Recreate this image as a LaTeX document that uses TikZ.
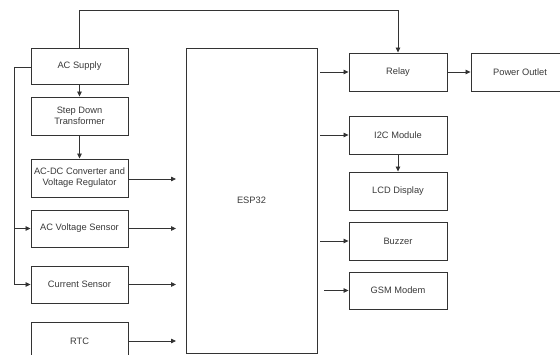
\documentclass[tikz,border=0pt]{standalone}
\usepackage{fontspec}
\setmainfont{Liberation Sans}
\usetikzlibrary{arrows.meta}
\definecolor{txt}{HTML}{3A3A3A}
\definecolor{ln}{HTML}{333333}
\begin{document}
\begin{tikzpicture}[x=1pt,y=-1pt,
  blk/.style={draw=ln, line width=0.9pt, fill=white, text=txt, align=center,
    font=\fontsize{9.3}{11}\selectfont, inner sep=1pt, minimum width=97pt, minimum height=38pt},
  conn/.style={draw=ln, line width=0.8pt},
  arr/.style={conn, -{Triangle[length=5pt,width=4.5pt]}}]
\useasboundingbox (0,0) rectangle (560,355);
\clip (0,0) rectangle (560,355);
\fill[white] (0,0) rectangle (560,355);
% left column
\node[blk, minimum height=36pt] (acs) at (79.5,66) {AC Supply};
\node[blk] (sdt) at (79.5,116) {Step Down\\Transformer};
\node[blk] (acdc) at (79.5,178) {AC-DC Converter and\\Voltage Regulator};
\node[blk, minimum height=37pt] (avs) at (79.5,228.5) {AC Voltage Sensor};
\node[blk, minimum height=37pt] (cur) at (79.5,284.5) {Current Sensor};
\node[blk] (rtc) at (79.5,341) {RTC};
% ESP32
\node[blk, minimum width=131pt, minimum height=305pt] (esp) at (251.5,200.5) {ESP32};
% right column
\node[blk, minimum width=98pt] (rel) at (398,72) {Relay};
\node[blk, minimum width=98pt] (pwr) at (520,72) {Power Outlet};
\node[blk, minimum width=98pt] (i2c) at (398,135) {I2C Module};
\node[blk, minimum width=98pt] (lcd) at (398,191) {LCD Display};
\node[blk, minimum width=98pt] (buz) at (398,241) {Buzzer};
\node[blk, minimum width=98pt, minimum height=37pt] (gsm) at (398,290.5) {GSM Modem};
% coordinates
\coordinate (topL) at (79.5,10);
\coordinate (topR) at (398,10);
\coordinate (fbA) at (14,67);
\coordinate (fbV) at (14,228.5);
\coordinate (fbC) at (14,284.5);
\coordinate (iA) at (176,179);
\coordinate (iV) at (176,228.5);
\coordinate (iC) at (176,284.5);
\coordinate (iR) at (176,341);
\coordinate (oR) at (320,72);
\coordinate (oI) at (320,135);
\coordinate (oB) at (320,241);
\coordinate (oG) at (324,290.5);
% connectors
\draw[arr] (acs.north) -- (topL) -- (topR) -- (rel.north);
\draw[arr] (acs.south) -- (sdt.north);
\draw[arr] (sdt.south) -- (acdc.north);
\draw[conn] (acs.west |- fbA) -- (fbA) -- (fbV);
\draw[arr] (fbA) -- (fbC) -- (cur.west);
\draw[arr] (fbV) -- (avs.west);
\draw[arr] (acdc.east |- iA) -- (iA);
\draw[arr] (avs.east) -- (iV);
\draw[arr] (cur.east) -- (iC);
\draw[arr] (rtc.east) -- (iR);
\draw[arr] (oR) -- (rel.west);
\draw[arr] (oI) -- (i2c.west);
\draw[arr] (oB) -- (buz.west);
\draw[arr] (oG) -- (gsm.west);
\draw[arr] (rel.east) -- (pwr.west);
\draw[arr] (i2c.south) -- (lcd.north);
\end{tikzpicture}
\end{document}
